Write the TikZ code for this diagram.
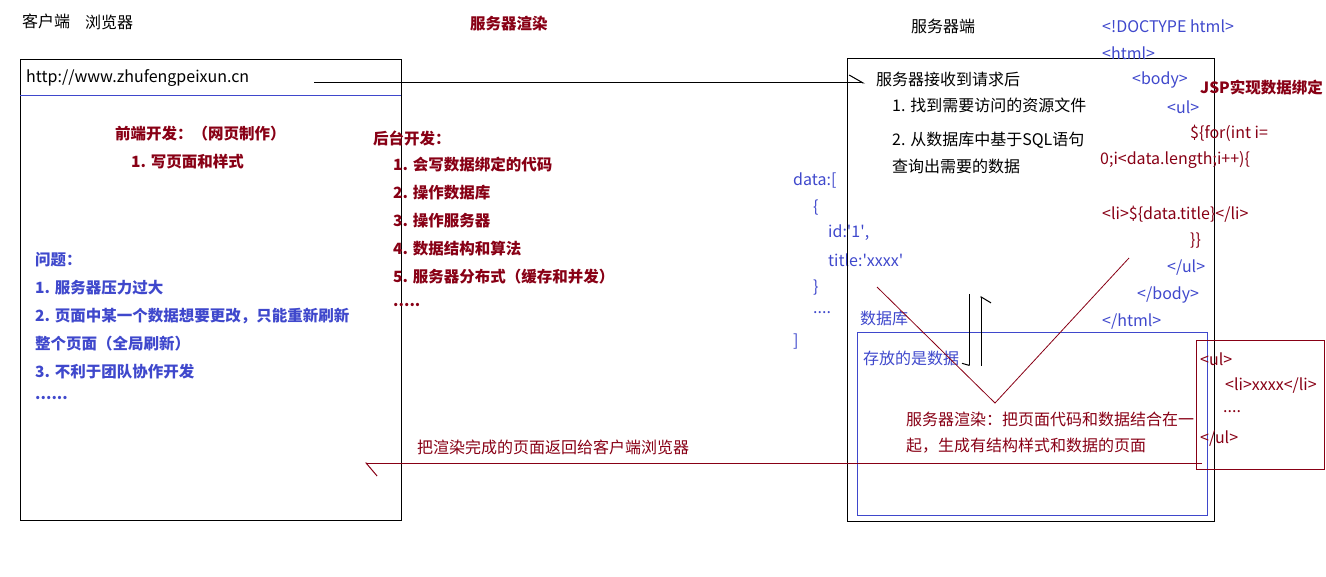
\documentclass[tikz,border=0pt]{standalone}
\usepackage{fontspec}
\setmainfont{Noto Sans CJK SC}
\usetikzlibrary{arrows.meta}

\definecolor{hongse}{RGB}{136,0,21}
\definecolor{lanse}{RGB}{63,72,204}

\tikzset{
	wenzi/.style={anchor=west, inner sep=0pt, font=\fontsize{16}{19}\selectfont},
	hei/.style={wenzi, text=black},
	hong/.style={wenzi, text=hongse},
	hongcu/.style={hong, font=\fontsize{15.5}{19}\selectfont\bfseries},
	lan/.style={wenzi, text=lanse},
	lancu/.style={lan, font=\fontsize{15.5}{19}\selectfont\bfseries},
	kuang/.style={line width=1pt},
}

\begin{document}
\begin{tikzpicture}[x=1pt, y=-1pt]
	\useasboundingbox (0,0) rectangle (1326,577);
	
	% 标题
	\node[hei] (kehu) at (22,21) {客户端};
	\node[hei] (liulan) at (85,22) {浏览器};
	\node[hongcu] (xuanran) at (470,24) {服务器渲染};
	\node[hei] (fuwu) at (911,26) {服务器端};
	
	% 浏览器窗口
	\draw[kuang] (20,60) rectangle (401,520);
	\draw[kuang, lanse] (20,96) -- (401,96);
	\node[hei] (url) at (26,78) {http://www.zhufengpeixun.cn};
	
	% 前端开发
	\node[hongcu] (qianduan) at (115,134) {前端开发：（网页制作）};
	\node[hongcu] (qd1) at (131,162) {1. 写页面和样式};
	
	% 后台开发
	\node[hongcu] (houtai) at (373,138) {后台开发：};
	\node[hongcu] (ht1) at (393,165) {1. 会写数据绑定的代码};
	\node[hongcu] (ht2) at (393,193) {2. 操作数据库};
	\node[hongcu] (ht3) at (393,221) {3. 操作服务器};
	\node[hongcu] (ht4) at (393,249) {4. 数据结构和算法};
	\node[hongcu] (ht5) at (393,277) {5. 服务器分布式（缓存和并发）};
	\node[hongcu] (ht6) at (393,305) {.....};
	
	% 问题
	\node[lancu] (wenti) at (35,260) {问题：};
	\node[lancu] (wt1) at (35,288) {1. 服务器压力过大};
	\node[lancu] (wt2) at (35,316) {2. 页面中某一个数据想要更改，只能重新刷新};
	\node[lancu] (wt2b) at (35,344) {整个页面（全局刷新）};
	\node[lancu] (wt3) at (35,372) {3. 不利于团队协作开发};
	\node[lancu] (wt4) at (35,398) {......};
	
	% 数据
	\node[lan] (d1) at (793,180) {data:[};
	\node[lan] (d2) at (813,208) {\{};
	\node[lan] (d3) at (828,233) {id:\textquotesingle 1\textquotesingle,};
	\node[lan] (d4) at (828,260) {title:\textquotesingle xxxx\textquotesingle};
	\node[lan] (d5) at (813,288) {\}};
	\node[lan] (d6) at (813,313) {....};
	\node[lan] (d7) at (793,342) {]};
	
	% 服务器端
	\draw[kuang] (847,59) rectangle (1214,521);
	\node[hei] (jieshou) at (876,79) {服务器接收到请求后};
	\node[hei] (js1) at (892,105) {1. 找到需要访问的资源文件};
	\node[hei] (js2) at (892,140) {2. 从数据库中基于SQL语句};
	\node[hei] (js2b) at (892,166) {查询出需要的数据};
	
	% JSP 页面
	\node[lan] (h1) at (1102,26) {<!DOCTYPE html>};
	\node[lan] (h2) at (1102,53) {<html>};
	\node[lan] (h3) at (1132,80) {<body>};
	\node[lan] (h4) at (1167,107) {<ul>};
	\node[hong] (h5) at (1190,133) {\$\{for(int i=};
	\node[hong] (h6) at (1100,160) {0;i<data.length;i++)\{};
	\node[hong] (h7) at (1102,214) {<li>\$\{data.title\}</li>};
	\node[hong] (h8) at (1190,241) {\}\}};
	\node[lan] (h9) at (1167,268) {</ul>};
	\node[lan] (h10) at (1137,295) {</body>};
	\node[lan] (h11) at (1102,322) {</html>};
	\node[hongcu] (jsp) at (1200,88) {JSP实现数据绑定};
	
	% 数据库
	\draw[kuang, lanse] (857,333) rectangle (1207,515);
	\node[lan] (shujuku) at (860,318) {数据库};
	\node[lan] (cunfang) at (863,358) {存放的是数据};
	
	% 服务器渲染说明
	\node[hong] (sm1) at (906,419) {服务器渲染：把页面代码和数据结合在一};
	\node[hong] (sm2) at (906,446) {起，生成有结构样式和数据的页面};
	
	% 渲染结果
	\draw[kuang, hongse] (1196,341) rectangle (1324,469);
	\node[hong] (r1) at (1200,359) {<ul>};
	\node[hong] (r2) at (1225,386) {<li>xxxx</li>};
	\node[hong] (r3) at (1223,412) {....};
	\node[hong] (r4) at (1200,439) {</ul>};
	
	% 返回
	\node[hong] (fanhui) at (417,447) {把渲染完成的页面返回给客户端浏览器};
	
	% 连线
	\coordinate (qq1) at (314,83);
	\coordinate (qq2) at (865,83);
	\draw[kuang, -{Straight Barb[left, length=14pt, width=16pt]}] (qq1) -- (qq2);
	
	\coordinate (fh1) at (1202,463);
	\coordinate (fh2) at (365,463);
	\draw[kuang, hongse, -{Straight Barb[left, length=11pt, width=26pt]}] (fh1) -- (fh2);
	
	\coordinate (xia1) at (969,294);
	\coordinate (xia2) at (969,366);
	\draw[kuang, -{Straight Barb[right, length=2pt, width=14pt]}] (xia1) -- (xia2);
	
	\coordinate (shang1) at (981,366);
	\coordinate (shang2) at (981,296);
	\draw[kuang, -{Straight Barb[right, length=6pt, width=20pt]}] (shang1) -- (shang2);
	
	% 对勾
	\coordinate (v1) at (877,287);
	\coordinate (v2) at (995,403);
	\coordinate (v3) at (1129,258);
	\draw[hongse, line width=0.8pt] (v1) -- (v2) -- (v3);
\end{tikzpicture}
\end{document}
